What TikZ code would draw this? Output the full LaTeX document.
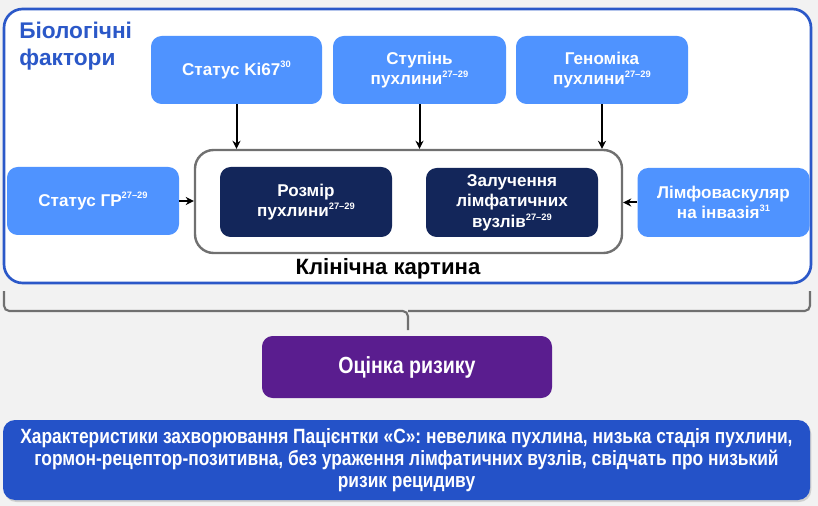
\documentclass[tikz,border=0pt]{standalone}
\usepackage{fontspec}
\setmainfont{Liberation Sans}
\newfontfamily\narrowfont[FakeStretch=0.84]{Liberation Sans}
\usetikzlibrary{shadows,arrows.meta}
\definecolor{bgc}{HTML}{F2F2F2}
\definecolor{outerblue}{HTML}{2B58C8}
\definecolor{lightblue}{HTML}{4F93FF}
\definecolor{navy}{HTML}{13265A}
\definecolor{purp}{HTML}{5A1D8F}
\definecolor{botblue}{HTML}{2452C8}
\definecolor{frgray}{HTML}{707070}
\newcommand{\sref}[1]{\raisebox{0.42em}{\fontsize{7}{7}\selectfont #1}}
\tikzset{
  lbox/.style={rectangle, rounded corners=8pt, fill=lightblue, text=white, font=\bfseries\fontsize{12.8}{15.5}\selectfont, align=center},
  nbox/.style={rectangle, rounded corners=8pt, fill=navy, text=white, font=\bfseries\fontsize{12.8}{15.5}\selectfont, align=center},
  arr/.style={-{Stealth[length=6pt,width=6pt]}, line width=1.5pt, black},
}
\begin{document}
\begin{tikzpicture}[x=0.75pt,y=-0.75pt]
\fill[bgc] (0,0) rectangle (818,506);
\useasboundingbox (0,0) rectangle (818,506);
% outer
\node[draw=outerblue, line width=2pt, fill=white, rounded corners=14pt, minimum width=807*0.75pt, minimum height=274*0.75pt, inner sep=0pt] (outer) at (407.5,146) {};
\node[anchor=north west, text=outerblue, font=\bfseries\fontsize{17}{20}\selectfont, align=left, inner sep=0pt] (title) at (19,22) {Біологічні\\фактори};
% top boxes
\node[lbox, minimum width=171*0.75pt, minimum height=68*0.75pt] (ki) at (236.5,70) {Статус Ki67\sref{30}};
\node[lbox, minimum width=173*0.75pt, minimum height=68*0.75pt] (st) at (419.5,70) {Ступінь\\пухлини\sref{27–29}};
\node[lbox, minimum width=172*0.75pt, minimum height=68*0.75pt] (ge) at (602,70) {Геноміка\\пухлини\sref{27–29}};
% frame
\node[draw=frgray, line width=1.8pt, fill=white, rounded corners=14pt, minimum width=427*0.75pt, minimum height=103*0.75pt] (frame) at (408.5,201.5) {};
\node[nbox, minimum width=172*0.75pt, minimum height=70*0.75pt] (roz) at (306,202) {Розмір\\пухлини\sref{27–29}};
\node[nbox, minimum width=172*0.75pt, minimum height=69*0.75pt] (zal) at (512,202.5) {Залучення\\лімфатичних\\вузлів\sref{27–29}};
\node[lbox, minimum width=172*0.75pt, minimum height=68*0.75pt] (gr) at (93,201) {Статус ГР\sref{27–29}};
\node[lbox, minimum width=172*0.75pt, minimum height=69*0.75pt] (lim) at (723.5,202.5) {Лімфоваскуляр\\на інвазія\sref{31}};
\node[font=\bfseries\fontsize{16.6}{19}\selectfont, inner sep=0pt] (clin) at (388,269) {Клінічна картина};
% arrows
\draw[arr] (ki.south) -- (ki.south |- frame.north);
\draw[arr] (st.south) -- (st.south |- frame.north);
\draw[arr] (ge.south) -- (ge.south |- frame.north);
\draw[arr] (gr.east) -- (gr.east -| frame.west);
\draw[arr] (lim.west) -- (lim.west -| frame.east);
% brace
\coordinate (bl) at (4,291);
\coordinate (br) at (810,291);
\coordinate (bm) at (408,330);
\draw[frgray, line width=1.6pt, rounded corners=4pt] (bl) -- (4,311) -- (408,311) -- (bm);
\draw[frgray, line width=1.6pt, rounded corners=4pt] (br) -- (810,311) -- (408,311);
% risk
\node[rectangle, rounded corners=8pt, fill=purp, text=white, font=\narrowfont\bfseries\fontsize{17.5}{20}\selectfont, minimum width=290*0.75pt, minimum height=62*0.75pt] (risk) at (407,367) {Оцінка ризику};
% bottom
\node[rectangle, rounded corners=9pt, fill=botblue, text=white, drop shadow={opacity=0.3, shadow xshift=1pt, shadow yshift=-1.5pt}, font=\narrowfont\bfseries\fontsize{15.5}{16.5}\selectfont, align=center, minimum width=807*0.75pt, minimum height=80*0.75pt] (bot) at (406.5,460) {Характеристики захворювання Пацієнтки «С»: невелика пухлина, низька стадія пухлини,\\гормон-рецептор-позитивна, без ураження лімфатичних вузлів, свідчать про низький\\ризик рецидиву};
\end{tikzpicture}
\end{document}
